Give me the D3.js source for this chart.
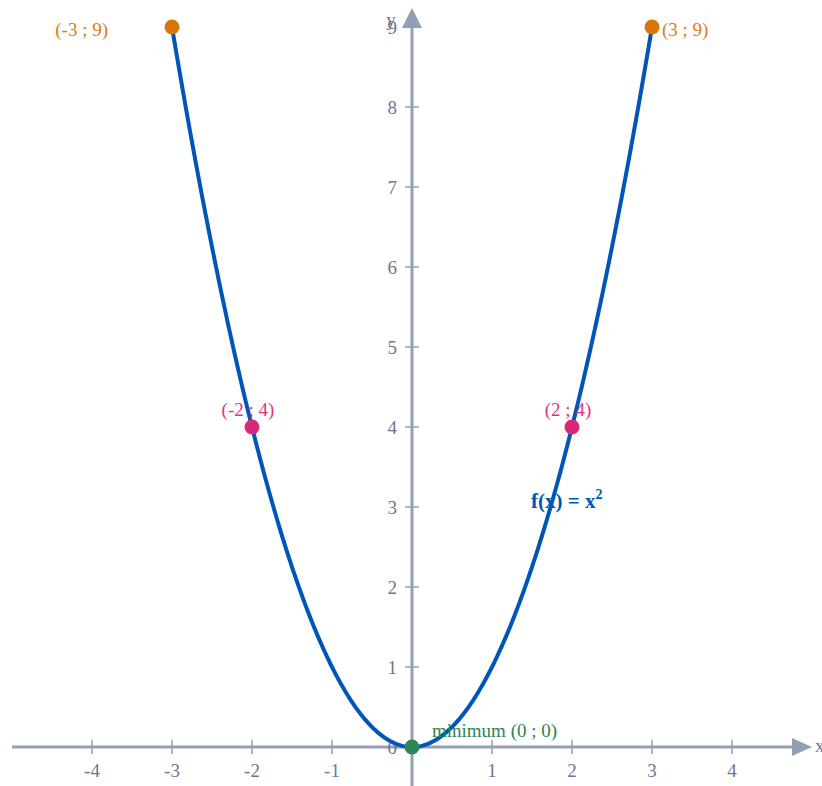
<!DOCTYPE html>
<html>
<head>
<meta charset="utf-8">
<script src="https://cdn.jsdelivr.net/npm/d3@7"></script>
<style>
  html, body { margin: 0; padding: 0; background: #fff; }
  svg { display: block; font-family: "Liberation Serif", "DejaVu Serif", serif; }
</style>
</head>
<body>
<svg></svg>
<script>
const full_width = 822;
const full_height = 786;

// data
const xTicks = [-4, -3, -2, -1, 1, 2, 3, 4];
const yTicks = [0, 1, 2, 3, 4, 5, 6, 7, 8, 9];
const endPoints = [[-3, 9], [3, 9]];
const midPoints = [[-2, 4], [2, 4]];
const minPoint = [0, 0];
const curveRange = [-3, 3];
const f = (x) => x * x;

const axisColor = "#939fb5";
const textColor = "#6b7791";
const curveColor = "#0056b8";
const fs = 19;

const svg = d3.select("svg").attr("width", full_width).attr("height", full_height);

const xScale = d3.scaleLinear().domain([-5, 5]).range([12, 812]);
const yScale = d3.scaleLinear().domain([0, 9]).range([747, 27]);

const x0 = xScale(0);
const y0 = yScale(0);

// axes lines
svg.append("line")
  .attr("x1", xScale(-5)).attr("x2", 796)
  .attr("y1", y0).attr("y2", y0)
  .attr("stroke", axisColor).attr("stroke-width", 3);

svg.append("path")
  .attr("d", `M792,${y0 - 9} L812,${y0} L792,${y0 + 9} Z`)
  .attr("fill", axisColor);

svg.append("line")
  .attr("x1", x0).attr("x2", x0)
  .attr("y1", 790).attr("y2", 26)
  .attr("stroke", axisColor).attr("stroke-width", 3);

svg.append("path")
  .attr("d", `M${x0 - 10},28 L${x0},8 L${x0 + 10},28 Z`)
  .attr("fill", axisColor);

// x ticks
const xt = svg.append("g").selectAll("g").data(xTicks).join("g")
  .attr("transform", (d) => `translate(${xScale(d)},${y0})`);
xt.append("line").attr("y1", -7).attr("y2", 7)
  .attr("stroke", axisColor).attr("stroke-width", 1.5);
xt.append("text").attr("y", 30).attr("text-anchor", "middle")
  .attr("fill", textColor).attr("font-size", fs)
  .text((d) => d);

// y ticks
const yt = svg.append("g").selectAll("g").data(yTicks).join("g")
  .attr("transform", (d) => `translate(${x0},${yScale(d)})`);
yt.filter((d) => d !== 0).append("line").attr("x1", -7).attr("x2", 7)
  .attr("stroke", axisColor).attr("stroke-width", 1.5);
yt.append("text").attr("x", -15).attr("y", 7).attr("text-anchor", "end")
  .attr("fill", textColor).attr("font-size", fs)
  .text((d) => d);

// axis names
svg.append("text").attr("x", 391).attr("y", 26).attr("text-anchor", "middle")
  .attr("fill", textColor).attr("font-size", fs).text("y");
svg.append("text").attr("x", 815).attr("y", 752)
  .attr("fill", textColor).attr("font-size", fs).text("x");

// curve
const samples = d3.range(curveRange[0], curveRange[1] + 0.0001, 0.02);
const line = d3.line().x((d) => xScale(d)).y((d) => yScale(f(d)));
svg.append("path").datum(samples)
  .attr("d", line)
  .attr("fill", "none")
  .attr("stroke", curveColor)
  .attr("stroke-width", 4)
  .attr("stroke-linecap", "round");

// points
svg.selectAll(".endp").data(endPoints).join("circle")
  .attr("class", "endp")
  .attr("cx", (d) => xScale(d[0])).attr("cy", (d) => yScale(d[1]))
  .attr("r", 7.5).attr("fill", "#d97706");

svg.selectAll(".midp").data(midPoints).join("circle")
  .attr("class", "midp")
  .attr("cx", (d) => xScale(d[0])).attr("cy", (d) => yScale(d[1]))
  .attr("r", 7.5).attr("fill", "#db2777");

svg.append("circle")
  .attr("cx", xScale(minPoint[0])).attr("cy", yScale(minPoint[1]))
  .attr("r", 7.5).attr("fill", "#2e8555");

// point labels
const fmt = (d) => `(${d[0]} ; ${d[1]})`;

svg.selectAll(".endl").data(endPoints).join("text")
  .attr("class", "endl")
  .attr("x", (d) => d[0] < 0 ? xScale(d[0]) - 64 : xScale(d[0]) + 10)
  .attr("y", (d) => yScale(d[1]) + 9)
  .attr("text-anchor", (d) => d[0] < 0 ? "end" : "start")
  .attr("fill", "#e07b12").attr("font-size", fs)
  .text(fmt);

svg.selectAll(".midl").data(midPoints).join("text")
  .attr("class", "midl")
  .attr("x", (d) => xScale(d[0]) - 4)
  .attr("y", (d) => yScale(d[1]) - 11)
  .attr("text-anchor", "middle")
  .attr("fill", "#e0337e").attr("font-size", fs)
  .text(fmt);

svg.append("text")
  .attr("x", xScale(minPoint[0]) + 20).attr("y", yScale(minPoint[1]) - 10)
  .attr("fill", "#2e8555").attr("font-size", fs)
  .text("minimum " + fmt(minPoint));

// function label
const fl = svg.append("text")
  .attr("x", 531).attr("y", 508)
  .attr("fill", curveColor).attr("font-size", 21).attr("font-weight", "bold");
fl.append("tspan").text("f(x) = x");
fl.append("tspan").attr("font-size", 14).attr("dy", -9).text("2");
</script>
</body>
</html>
